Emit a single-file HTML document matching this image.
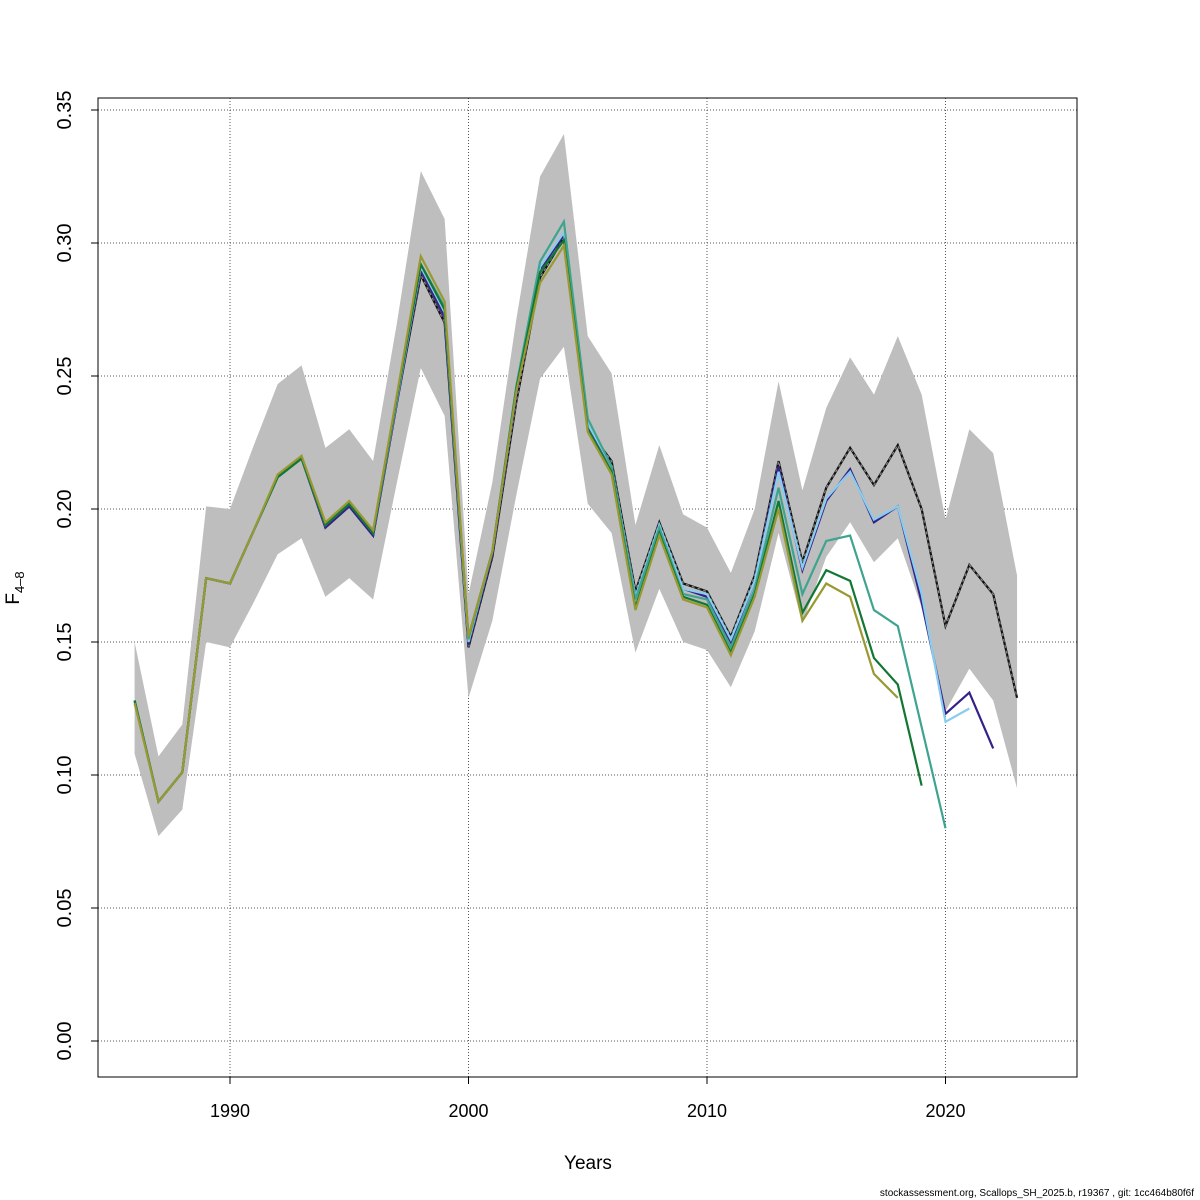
<!DOCTYPE html>
<html><head><meta charset="utf-8">
<style>
html,body{margin:0;padding:0;background:#fff;}
svg{display:block;font-family:"Liberation Sans",sans-serif;}
</style></head>
<body>
<svg id="chart" width="1200" height="1200" viewBox="0 0 1200 1200"></svg>
<script>
const years = [];
for (let y = 1986; y <= 2023; y++) years.push(y);
const bandUpper = [0.150,0.107,0.119,0.201,0.200,0.224,0.247,0.254,0.223,0.230,0.218,0.270,0.327,0.309,0.168,0.210,0.271,0.325,0.341,0.265,0.251,0.194,0.224,0.198,0.193,0.176,0.200,0.248,0.207,0.238,0.257,0.243,0.265,0.243,0.196,0.230,0.221,0.175];
const bandLower = [0.108,0.077,0.087,0.150,0.148,0.165,0.183,0.189,0.167,0.174,0.166,0.210,0.253,0.235,0.129,0.158,0.205,0.249,0.261,0.202,0.191,0.146,0.170,0.150,0.147,0.133,0.154,0.191,0.157,0.182,0.195,0.180,0.189,0.163,0.124,0.140,0.128,0.095];
const baseF = [0.128,0.090,0.101,0.174,0.172,0.192,0.212,0.219,0.193,0.201,0.190,0.240,0.288,0.270,0.148,0.182,0.240,0.287,0.302,0.230,0.218,0.169,0.195,0.172,0.169,0.152,0.175,0.218,0.180,0.208,0.223,0.209,0.224,0.200,0.156,0.179,0.168,0.129];
const navyF = [0.128,0.090,0.101,0.174,0.172,0.192,0.212,0.219,0.193,0.201,0.190,0.240,0.290,0.272,0.149,0.183,0.243,0.290,0.303,0.231,0.216,0.167,0.194,0.170,0.167,0.150,0.173,0.216,0.177,0.203,0.215,0.195,0.201,0.165,0.123,0.131,0.110];
const lightBlueF = [0.128,0.090,0.101,0.174,0.172,0.192,0.212,0.219,0.194,0.202,0.191,0.241,0.291,0.274,0.150,0.184,0.244,0.291,0.304,0.232,0.216,0.167,0.194,0.170,0.168,0.151,0.173,0.214,0.178,0.204,0.214,0.196,0.201,0.168,0.120,0.125];
const tealF = [0.128,0.090,0.101,0.174,0.172,0.192,0.212,0.219,0.194,0.202,0.191,0.242,0.292,0.276,0.151,0.184,0.246,0.293,0.308,0.234,0.216,0.166,0.193,0.168,0.166,0.148,0.170,0.208,0.168,0.188,0.190,0.162,0.156,0.118,0.080];
const greenF = [0.128,0.090,0.101,0.174,0.172,0.192,0.212,0.219,0.194,0.202,0.191,0.242,0.292,0.275,0.152,0.184,0.245,0.289,0.301,0.230,0.214,0.163,0.191,0.167,0.164,0.146,0.168,0.203,0.161,0.177,0.173,0.144,0.134,0.096];
const oliveF = [0.127,0.090,0.101,0.174,0.172,0.192,0.213,0.220,0.195,0.203,0.192,0.243,0.295,0.278,0.152,0.184,0.244,0.285,0.299,0.229,0.213,0.162,0.190,0.166,0.163,0.145,0.167,0.200,0.158,0.172,0.167,0.138,0.129];
const yTicks = [0.00,0.05,0.10,0.15,0.20,0.25,0.30,0.35];
const yTickLabels = ["0.00","0.05","0.10","0.15","0.20","0.25","0.30","0.35"];
const xTicks = [1990,2000,2010,2020];

const NS = "http://www.w3.org/2000/svg";
const svg = document.getElementById('chart');
function xs(yr){ return 230 + (yr - 1990) * 23.85; }
function ys(v){ return 1041 - v * (931 / 0.35); }
function mk(tag, attrs, parent){
  const e = document.createElementNS(NS, tag);
  for (const k in attrs) e.setAttribute(k, attrs[k]);
  (parent || svg).appendChild(e);
  return e;
}
const PL = 98, PR = 1077, PT = 98, PB = 1077;

const grid = mk('g', {});


yTicks.forEach(v => {
  const l = mk('line', {x1:PL, x2:PR, y1:ys(v), y2:ys(v), stroke:'#555', 'stroke-width':1, 'stroke-dasharray':'1,2'}, grid);
  
  
});
xTicks.forEach(v => {
  const l = mk('line', {x1:xs(v), x2:xs(v), y1:PT, y2:PB, stroke:'#555', 'stroke-width':1, 'stroke-dasharray':'1,2'}, grid);
  
  
});

let pts = years.map((y,i)=>xs(y)+','+ys(bandUpper[i]));
for (let i = years.length-1; i >= 0; i--) pts.push(xs(years[i])+','+ys(bandLower[i]));
const band = mk('polygon', {points: pts.join(' '), fill:'#bebebe', stroke:'none'});



function series(arr, color, name){
  const p = arr.map((v,i)=>xs(years[i])+','+ys(v)).join(' ');
  const l = mk('polyline', {points:p, fill:'none', stroke:color, 'stroke-width':2.2, 'stroke-linejoin':'miter'});
  
  
  return p;
}
const bp = series(baseF, '#111', 'series-base');
const bd = mk('polyline', {points:bp, fill:'none', stroke:'#888', 'stroke-width':1.2, 'stroke-dasharray':'3,3'});


series(navyF, '#332288', 'series-navy');
series(lightBlueF, '#88ccee', 'series-lightblue');
series(tealF, '#3ea48f', 'series-teal');
series(greenF, '#117733', 'series-green');
series(oliveF, '#999933', 'series-olive');

const box = mk('rect', {x:PL, y:PT, width:PR-PL, height:PB-PT, fill:'none', stroke:'#000', 'stroke-width':1});



yTicks.forEach((v,i) => {
  mk('line', {x1:PL-7, x2:PL, y1:ys(v), y2:ys(v), stroke:'#000'});
  const t = mk('text', {x:71, y:ys(v), 'font-size':20, 'text-anchor':'middle', transform:`rotate(-90 71 ${ys(v)})`});
  t.textContent = yTickLabels[i];
  
  
});
xTicks.forEach(v => {
  mk('line', {x1:xs(v), x2:xs(v), y1:PB, y2:PB+7, stroke:'#000'});
  const t = mk('text', {x:xs(v), y:1117, 'font-size':18, 'text-anchor':'middle'});
  t.textContent = v;
  
  
});
const xt = mk('text', {x:588, y:1169, 'font-size':19, 'text-anchor':'middle'});
xt.textContent = 'Years';


const yt = mk('text', {x:19, y:588, 'font-size':19, 'text-anchor':'middle', transform:'rotate(-90 19 588)'});
yt.innerHTML = 'F<tspan font-size="13" dy="5">4–8</tspan>';


const ft = mk('text', {x:1194, y:1196, 'font-size':10, 'text-anchor':'end'});
ft.textContent = 'stockassessment.org, Scallops_SH_2025.b, r19367 , git: 1cc464b80f6f';


</script>
</body></html>
